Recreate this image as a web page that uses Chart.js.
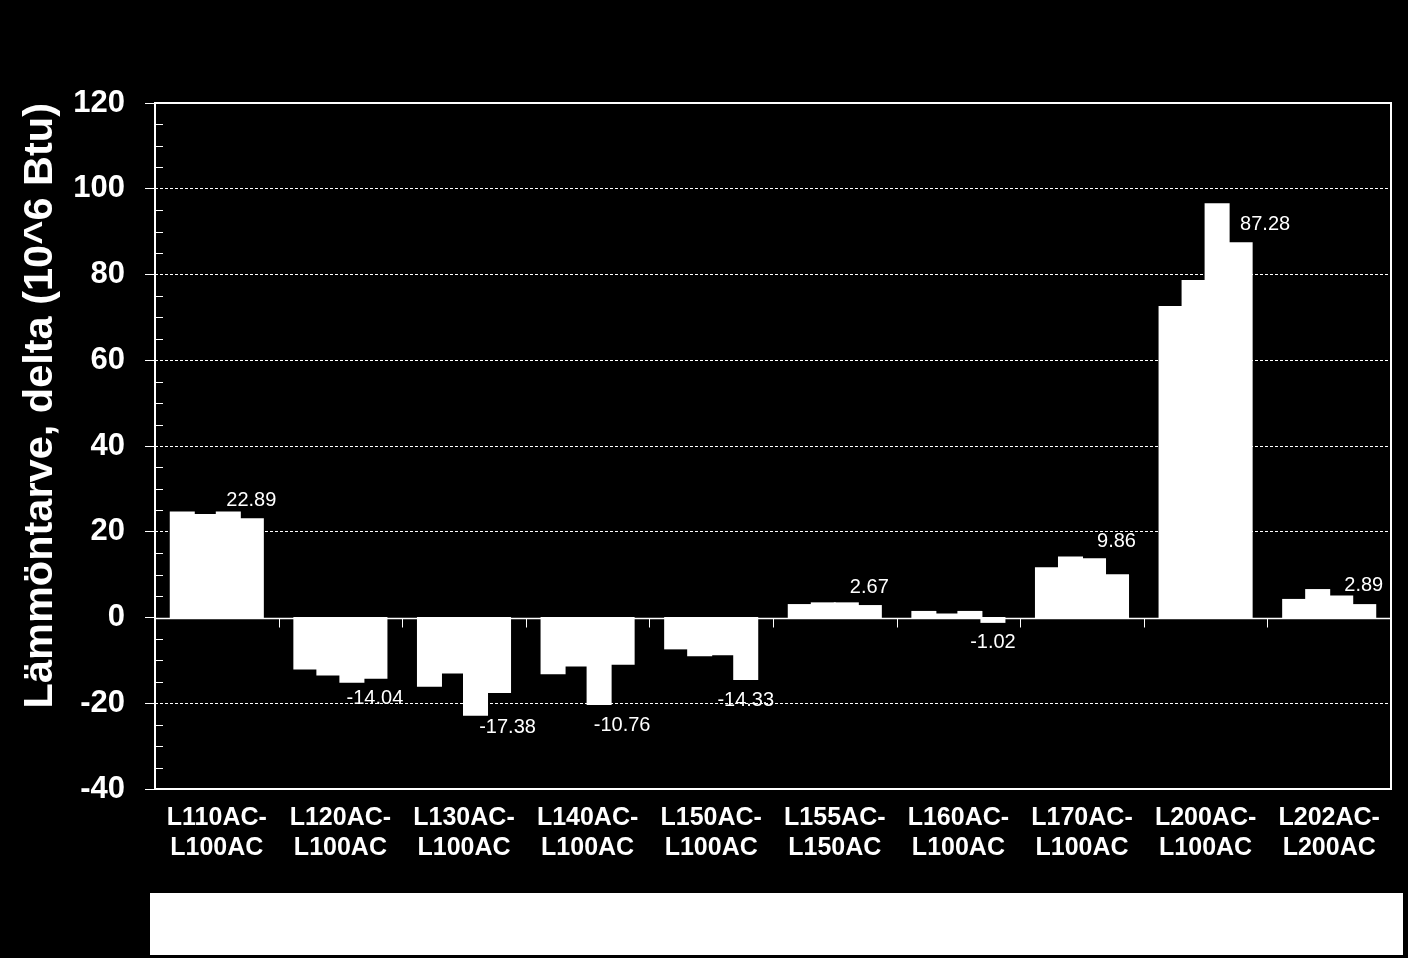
<!DOCTYPE html>
<html>
<head>
<meta charset="utf-8">
<script src="https://cdn.jsdelivr.net/npm/chart.js@4"></script>
<style>
  html, body { margin: 0; padding: 0; background: #000; }
  #wrap { width: 1408px; height: 958px; }
</style>
</head>
<body>
<div id="wrap"><canvas id="myChart" width="1408" height="958"></canvas></div>
<script>
// categories (two-line tick labels)
const labels = [
	['L110AC-', 'L100AC'],
	['L120AC-', 'L100AC'],
	['L130AC-', 'L100AC'],
	['L140AC-', 'L100AC'],
	['L150AC-', 'L100AC'],
	['L155AC-', 'L150AC'],
	['L160AC-', 'L100AC'],
	['L170AC-', 'L100AC'],
	['L200AC-', 'L100AC'],
	['L202AC-', 'L200AC']
];

// four series (last one carries the printed labels)
const series1 = [24.5, -11.9, -15.9, -13.0, -7.2, 2.9, 1.3, 11.5, 72.4, 4.1];
const series2 = [23.9, -13.3, -12.8, -11.2, -8.8, 3.3, 0.7, 14.0, 78.5, 6.4];
const series3 = [24.5, -15.0, -22.7, -20.2, -8.6, 3.3, 1.3, 13.6, 96.4, 4.9];
const series4 = [22.89, -14.04, -17.38, -10.76, -14.33, 2.67, -1.02, 9.86, 87.28, 2.89];

const yTitle = 'Lämmöntarve, delta (10^6 Btu)';

const white = '#ffffff';
const font = 'Arial, "Liberation Sans", sans-serif';

// label nudges, same as the hand-placed labels in the original
const labelDx = [0, 0, 9, 0, 0, 0, 0, 0, 25, 0];
const labelDy = [-19, 21, 35, 62, 22, -19, 21, -34, -19, -20];

const frame = {
	id: 'frame',
	beforeDatasetsDraw(chart) {
		const ctx = chart.ctx;
		const a = chart.chartArea;
		const y = chart.scales.y;
		ctx.save();
		ctx.strokeStyle = white;
		// minor ticks inside the plot, every 5
		ctx.lineWidth = 1;
		for (let v = -35; v < 120; v += 5) {
			if (v % 20 === 0) continue;
			const py = Math.round(y.getPixelForValue(v)) + 0.5;
			ctx.beginPath();
			ctx.moveTo(a.left, py);
			ctx.lineTo(a.left + 8, py);
			ctx.stroke();
		}
		// zero line with category ticks pointing down
		const y0 = Math.round(y.getPixelForValue(0)) + 0.5;
		ctx.lineWidth = 1.5;
		ctx.beginPath();
		ctx.moveTo(a.left, y0);
		ctx.lineTo(a.right, y0);
		ctx.stroke();
		ctx.lineWidth = 1;
		const step = (a.right - a.left) / labels.length;
		for (let i = 1; i < labels.length; i++) {
			const px = Math.round(a.left + step * i) + 0.5;
			ctx.beginPath();
			ctx.moveTo(px, y0);
			ctx.lineTo(px, y0 + 9);
			ctx.stroke();
		}
		// plot border
		ctx.lineWidth = 2;
		ctx.strokeRect(a.left, a.top, a.right - a.left, a.bottom - a.top);
		ctx.restore();
	},
	afterDraw(chart) {
		const ctx = chart.ctx;
		ctx.save();
		// empty white legend box
		ctx.fillStyle = white;
		ctx.fillRect(150, 893, 1253, 62);
		// value labels on the last series
		const meta = chart.getDatasetMeta(3);
		ctx.font = '20px ' + font;
		ctx.textAlign = 'center';
		ctx.textBaseline = 'middle';
		meta.data.forEach((bar, i) => {
			ctx.fillText(series4[i].toFixed(2), bar.x + labelDx[i], bar.y + labelDy[i]);
		});
		ctx.restore();
	}
};

const data = {
	labels: labels,
	datasets: [series1, series2, series3, series4].map((s, i) => ({
		label: 'Serie ' + (i + 1),
		data: s,
		backgroundColor: white,
		borderWidth: 0,
		inflateAmount: 1,
		barPercentage: 1.0,
		categoryPercentage: 0.745
	}))
};

const config = {
	type: 'bar',
	data: data,
	plugins: [frame],
	options: {
		responsive: false,
		animation: false,
		layout: {
			padding: { top: 103, right: 17, bottom: 69, left: 0 }
		},
		plugins: {
			legend: { display: false },
			tooltip: { enabled: false }
		},
		scales: {
			x: {
				ticks: {
					color: white,
					font: { family: font, size: 25, weight: 'bold' },
					padding: 14,
					maxRotation: 0,
					autoSkip: false
				},
				grid: { display: false, drawTicks: false },
				border: { display: false },
				afterFit: s => { s.height = 100; }
			},
			y: {
				min: -40,
				max: 120,
				ticks: {
					stepSize: 20,
					color: white,
					font: { family: font, size: 31, weight: 'bold' },
					padding: 20
				},
				grid: {
					color: c => (c.tick && c.tick.value !== 0 && c.tick.value !== 120 && c.tick.value !== -40) ? white : 'rgba(0,0,0,0)',
					tickColor: white,
					tickLength: 10,
					lineWidth: 1
				},
				border: { display: false, dash: [3, 2] },
				title: {
					display: true,
					text: yTitle,
					align: 'end',
					color: white,
					font: { family: font, size: 41.5, weight: 'bold' },
					padding: { top: 16, bottom: 0 }
				},
				afterFit: s => { s.width = 155; }
			}
		}
	}
};

const myChart = new Chart(document.getElementById('myChart'), config);
</script>
</body>
</html>
